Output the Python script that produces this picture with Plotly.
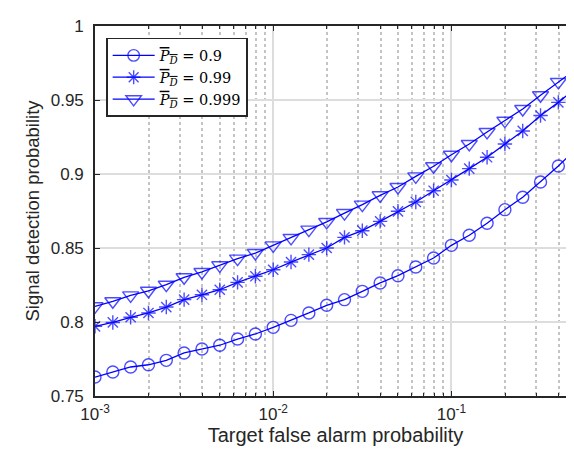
import numpy as np
import plotly.graph_objects as go

# x positions: 10^-3 ... 10^-0.4 in steps of 0.1 decade, plus axis end 0.5
x_exp = [-3.0 + 0.1 * k for k in range(27)]
x_vals = [10 ** e for e in x_exp] + [0.5]

pd_09 = [0.7628, 0.7662, 0.7696, 0.7711, 0.7741, 0.7791, 0.7818, 0.7843, 0.7885,
         0.7919, 0.7964, 0.8011, 0.8061, 0.8113, 0.8151, 0.8207, 0.8264, 0.8313,
         0.8372, 0.8432, 0.8518, 0.8586, 0.8667, 0.8759, 0.8843, 0.8946, 0.9054,
         0.9170]
pd_099 = [0.7971, 0.7997, 0.8032, 0.8061, 0.8101, 0.8151, 0.8184, 0.8218, 0.8268,
          0.8309, 0.8353, 0.8405, 0.8455, 0.8500, 0.8572, 0.8617, 0.8680, 0.8748,
          0.8811, 0.8887, 0.8959, 0.9036, 0.9113, 0.9203, 0.9291, 0.9395, 0.9484,
          0.9581]
pd_0999 = [0.8106, 0.8140, 0.8180, 0.8211, 0.8252, 0.8302, 0.8338, 0.8383, 0.8428,
           0.8466, 0.8518, 0.8568, 0.8624, 0.8676, 0.8736, 0.8793, 0.8856, 0.8912,
           0.8984, 0.9052, 0.9130, 0.9203, 0.9284, 0.9360, 0.9439, 0.9532, 0.9622,
           0.9709]

series_names = ["0.9", "0.99", "0.999"]
y_ticks = [0.75, 0.8, 0.85, 0.9, 0.95, 1.0]
y_ticklabels = ["0.75", "0.8", "0.85", "0.9", "0.95", "1"]
x_ticks = [1e-3, 1e-2, 1e-1]
x_ticklabels = ["10<sup>-3</sup>", "10<sup>-2</sup>", "10<sup>-1</sup>"]
x_minor = [m * d for d in (1e-3, 1e-2, 1e-1) for m in range(2, 10) if m * d <= 0.5]

BLUE = "#0000FF"
symbols = ["circle-open", "asterisk-open", "triangle-down-open"]
sizes = [12, 12, 14]

fig = go.Figure()
for ys, name, sym, sz in zip([pd_09, pd_099, pd_0999], series_names, symbols, sizes):
    msize = [sz] * (len(x_vals) - 1) + [0]
    label = ("<span style='text-decoration:overline'><i>P</i><sub><i>D</i></sub></span>"
             " = " + name)
    fig.add_trace(go.Scatter(
        x=x_vals, y=ys, mode="lines+markers", name=label,
        line=dict(color=BLUE, width=1.3),
        marker=dict(symbol=sym, size=msize, color=BLUE, line=dict(color=BLUE, width=1.4)),
    ))

axis_common = dict(
    showline=True, linecolor="#262626", linewidth=1.6, mirror="ticks",
    ticks="inside", ticklen=5, tickcolor="#262626", tickwidth=1.3,
    tickfont=dict(family="Liberation Sans", size=17, color="#262626"),
    zeroline=False, automargin=False,
)

fig.update_xaxes(
    type="log", range=[-3, np.log10(0.5)],
    tickmode="array", tickvals=x_ticks, ticktext=x_ticklabels,
    showgrid=True, gridcolor="#DDDDDD", gridwidth=2,
    minor=dict(tickmode="array", tickvals=x_minor, showgrid=True, gridcolor="#C4C4C4",
               griddash="dot", gridwidth=2, ticks="inside", ticklen=3, tickcolor="#262626"),
    title=dict(text="Target false alarm probability",
               font=dict(family="Liberation Sans", size=20, color="#262626"), standoff=4),
    ticklabelstandoff=2,
    **axis_common,
)
fig.update_yaxes(
    range=[0.75, 1.0], tickmode="array", tickvals=y_ticks, ticktext=y_ticklabels,
    showgrid=True, gridcolor="#DDDDDD", gridwidth=2,
    title=dict(text="Signal detection probability",
               font=dict(family="Liberation Sans", size=18.5, color="#262626"), standoff=6),
    ticklabelstandoff=6,
    **axis_common,
)

fig.update_layout(
    width=574, height=449,
    margin=dict(l=87, r=6, t=18, b=61),
    plot_bgcolor="white", paper_bgcolor="white",
    showlegend=True,
    legend=dict(x=0.023, y=0.968, xanchor="left", yanchor="top",
                bgcolor="white", bordercolor="#262626", borderwidth=1.6,
                font=dict(family="DejaVu Serif", size=14.5, color="#000000"),
                itemwidth=42, tracegroupgap=0),
)

fig.write_html("out.html")
